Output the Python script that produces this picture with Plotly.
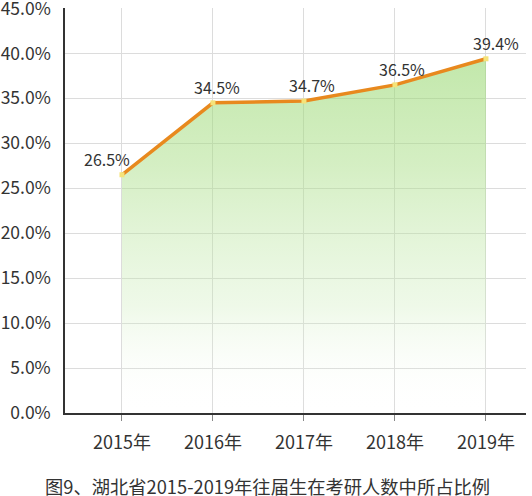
"""湖北省2015-2019年往届生在考研人数中所占比例 — area line chart."""

import plotly.graph_objects as go

years = ["2015年", "2016年", "2017年", "2018年", "2019年"]
ratio = [26.5, 34.5, 34.7, 36.5, 39.4]
y_ticks = [0, 5, 10, 15, 20, 25, 30, 35, 40, 45]
y_ticktext = [f"{v:.1f}%" for v in y_ticks]
title_text = "图9、湖北省2015-2019年往届生在考研人数中所占比例"

FONT = "Noto Sans CJK SC, Noto Sans, sans-serif"
x_idx = list(range(len(years)))

# small horizontal nudges of the value labels, as in the original
label_shift = [-15, 4, 8, 7, 10]

fig = go.Figure()

# green area with vertical fade to white
fig.add_trace(
    go.Scatter(
        x=x_idx, y=ratio,
        mode="lines",
        line=dict(color="rgba(0,0,0,0)", width=0),
        fill="tozeroy",
        fillgradient=dict(
            type="vertical",
            colorscale=[
                [0.0, "rgba(255,255,255,0)"],
                [0.3, "rgba(200,235,180,0.3)"],
                [0.7, "rgba(170,222,135,0.5)"],
                [1.0, "rgba(150,215,110,0.58)"],
            ],
        ),
        hoverinfo="skip",
        showlegend=False,
    )
)

# orange line + yellow markers
fig.add_trace(
    go.Scatter(
        x=x_idx, y=ratio,
        mode="lines+markers",
        line=dict(color="#E8891E", width=3.5),
        marker=dict(symbol="square", size=5, color="#F5E37A"),
        showlegend=False,
    )
)

annotations = [
    dict(
        x=xi, y=v, text=f"{v:.1f}%",
        xref="x", yref="y",
        showarrow=False,
        xanchor="center", yanchor="bottom",
        xshift=dx, yshift=2,
        font=dict(size=16, color="#333333", family=FONT),
    )
    for xi, v, dx in zip(x_idx, ratio, label_shift)
]
annotations.append(
    dict(
        text=title_text,
        xref="paper", yref="paper",
        x=0.44, y=-0.18, xanchor="center", yanchor="middle",
        showarrow=False,
        font=dict(size=18.3, color="#333333", family=FONT),
    )
)

fig.update_layout(
    width=532, height=496,
    margin=dict(l=65, r=6, t=8, b=83),
    plot_bgcolor="white",
    paper_bgcolor="white",
    font=dict(family=FONT, color="#333333", size=18),
    xaxis=dict(
        tickvals=x_idx, ticktext=years,
        range=[-0.626, 4.44],
        showgrid=True, gridcolor="#dcdcdc", gridwidth=1,
        showline=True, linecolor="#333333", linewidth=1.5,
        ticks="outside", ticklen=6, tickcolor="#888888",
        tickfont=dict(size=18, color="#333333"),
        ticklabelstandoff=7,
        ticklabeloverflow="allow",
        zeroline=False,
        automargin=False,
    ),
    yaxis=dict(
        range=[0, 45.05],
        tickvals=y_ticks, ticktext=y_ticktext,
        showgrid=True, gridcolor="#dcdcdc", gridwidth=1,
        showline=True, linecolor="#333333", linewidth=1.5,
        tickfont=dict(size=17.5, color="#333333"),
        ticklabelstandoff=9,
        ticklabeloverflow="allow",
        zeroline=False,
        automargin=False,
    ),
    annotations=annotations,
)

# drop the browser's default 8px page margin so the chart sits flush
fig.write_html(
    "out.html",
    config={"displayModeBar": False},
    post_script="document.body.style.margin='0';",
)
